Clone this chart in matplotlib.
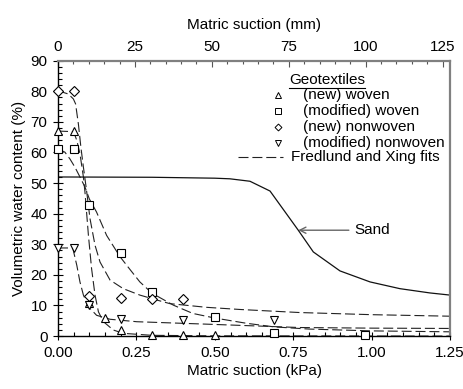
import numpy as np
import matplotlib
matplotlib.use('Agg')
import matplotlib.pyplot as plt
from matplotlib.ticker import MultipleLocator, FixedLocator, FormatStrFormatter

plt.rcParams['font.family'] = ['Liberation Sans', 'DejaVu Sans']
plt.rcParams['font.size'] = 11

#Measured points (matric suction kPa, volumetric water content %)
new_woven_x = [0.0, 0.05, 0.1, 0.15, 0.2, 0.3, 0.4, 0.5]
new_woven_y = [67.0, 67.0, 10.8, 6.0, 2.0, 0.5, 0.3, 0.3]
mod_woven_x = [0.0, 0.05, 0.1, 0.2, 0.3, 0.5, 0.69, 0.98]
mod_woven_y = [61.3, 61.3, 42.7, 27.0, 14.4, 6.3, 1.1, 0.2]
new_nonwoven_x = [0.0, 0.05, 0.1, 0.2, 0.3, 0.4]
new_nonwoven_y = [80.2, 80.2, 13.2, 12.4, 12.0, 12.0]
mod_nonwoven_x = [0.0, 0.05, 0.1, 0.2, 0.4, 0.69]
mod_nonwoven_y = [28.8, 28.8, 10.3, 5.5, 5.4, 5.4]

#Fredlund and Xing fits
fit_new_woven_x = [0.0, 0.05, 0.06, 0.07, 0.081, 0.086, 0.097, 0.107, 0.118, 0.129, 0.145, 0.176, 0.208, 0.3, 0.5, 1.25]
fit_new_woven_y = [67.0, 66.8, 63.9, 59.6, 52.0, 47.0, 32.9, 22.1, 13.4, 7.9, 4.7, 2.0, 0.9, 0.25, 0.08, 0.0]
fit_mod_woven_x = [0.0, 0.022, 0.038, 0.054, 0.07, 0.086, 0.1, 0.123, 0.155, 0.198, 0.23, 0.261, 0.3, 0.368, 0.43, 0.5, 0.6, 0.69, 0.8, 1.0, 1.25]
fit_mod_woven_y = [61.2, 60.1, 57.9, 55.2, 52.0, 48.7, 44.8, 40.5, 32.9, 25.9, 21.7, 17.7, 14.0, 10.1, 7.4, 5.9, 4.2, 3.0, 2.3, 1.7, 1.4]
fit_new_nonwoven_x = [0.0, 0.033, 0.049, 0.056, 0.065, 0.073, 0.081, 0.091, 0.102, 0.118, 0.134, 0.166, 0.208, 0.261, 0.325, 0.357, 0.474, 0.58, 0.77, 1.0, 1.25]
fit_new_nonwoven_y = [80.2, 79.1, 77.5, 75.9, 69.3, 61.7, 55.2, 47.6, 38.4, 29.7, 24.2, 18.3, 15.5, 13.4, 11.5, 10.6, 9.4, 8.7, 7.7, 7.0, 6.5]
fit_mod_nonwoven_x = [0.0, 0.047, 0.06, 0.07, 0.081, 0.097, 0.123, 0.166, 0.251, 0.474, 0.77, 1.0, 1.25]
fit_mod_nonwoven_y = [28.8, 28.8, 23.1, 17.7, 13.4, 9.6, 6.8, 5.5, 4.7, 3.9, 2.8, 2.6, 2.5]

#Sand curve
sand_x = [0.0, 0.3, 0.5, 0.548, 0.612, 0.676, 0.766, 0.814, 0.899, 0.995, 1.09, 1.186, 1.25]
sand_y = [52.0, 51.9, 51.6, 51.4, 50.6, 47.4, 34.6, 27.5, 21.3, 17.7, 15.5, 14.1, 13.4]

top_ticks = [0, 25, 50, 75, 100, 125]

fig = plt.figure(figsize=(4.64, 3.89), dpi=100)
ax = fig.add_axes([0.125, 0.136, 0.845, 0.708])

dash = (0, (9, 3.5))
lc = '#222222'
for fx, fy in [(fit_new_woven_x, fit_new_woven_y), (fit_mod_woven_x, fit_mod_woven_y),
               (fit_new_nonwoven_x, fit_new_nonwoven_y), (fit_mod_nonwoven_x, fit_mod_nonwoven_y)]:
    ax.plot(fx, fy, color=lc, lw=0.8, linestyle=dash, zorder=2)

ax.plot(sand_x, sand_y, color='#111111', lw=0.9, zorder=2)

mk = dict(linestyle='none', mfc='white', mec='black', mew=0.8, ms=6, zorder=3, clip_on=False)
ax.plot(new_woven_x, new_woven_y, marker='^', **mk)
ax.plot(mod_woven_x, mod_woven_y, marker='s', **dict(mk, ms=5.5))
ax.plot(new_nonwoven_x, new_nonwoven_y, marker='D', **dict(mk, ms=5))
ax.plot(mod_nonwoven_x, mod_nonwoven_y, marker='v', **mk)

#Sand label with arrow
ax.annotate('Sand', xy=(0.766, 34.6), xytext=(0.945, 34.6), va='center', ha='left',
            arrowprops=dict(arrowstyle='->', color='#666666', lw=1.0, shrinkA=2, shrinkB=0))

#Hand-made legend
ax.text(0.589, 0.930, 'Geotextiles', transform=ax.transAxes, ha='left', va='center')
ax.plot([0.589, 0.783], [0.902, 0.902], transform=ax.transAxes, color='black', lw=0.8)
leg_items = [('^', '(new) woven'), ('s', '(modified) woven'), ('D', '(new) nonwoven'), ('v', '(modified) nonwoven')]
for i, (m, lab) in enumerate(leg_items):
    yy = 0.876 - i * 0.058
    ax.plot([0.56], [yy], transform=ax.transAxes, marker=m, linestyle='none', mfc='white',
            mec='black', mew=0.7, ms=4 if m != 'D' else 3.5)
    ax.text(0.626, yy, lab, transform=ax.transAxes, ha='left', va='center')
ax.plot([0.459, 0.575], [0.650, 0.650], transform=ax.transAxes, color=lc, lw=0.8, linestyle=dash)
ax.text(0.594, 0.650, 'Fredlund and Xing fits', transform=ax.transAxes, ha='left', va='center')

ax.set_xlim(0, 1.25)
ax.set_ylim(0, 90)
ax.xaxis.set_major_locator(MultipleLocator(0.25))
ax.xaxis.set_minor_locator(MultipleLocator(0.05))
ax.xaxis.set_major_formatter(FormatStrFormatter('%.2f'))
ax.yaxis.set_major_locator(MultipleLocator(10))
ax.yaxis.set_minor_locator(MultipleLocator(2))
ax.tick_params(axis='x', which='major', direction='inout', length=6, width=0.8, pad=4)
ax.tick_params(axis='x', which='minor', direction='in', length=3, width=0.8)
ax.tick_params(axis='y', which='major', direction='inout', length=7, width=0.8, pad=4)
ax.tick_params(axis='y', which='minor', direction='in', length=3, width=0.8)
ax.set_xlabel('Matric suction (kPa)', labelpad=3)
ax.set_ylabel('Volumetric water content (%)', labelpad=3)

for s in ['top', 'right']:
    ax.spines[s].set_color('#808080')
    ax.spines[s].set_linewidth(1.6)
for s in ['left', 'bottom']:
    ax.spines[s].set_color('black')
    ax.spines[s].set_linewidth(1.0)

#Top axis in mm of water (1 mm = 0.00981 kPa)
top = ax.secondary_xaxis('top', functions=(lambda k: k / 0.00981, lambda mm: mm * 0.00981))
top.xaxis.set_major_locator(FixedLocator(top_ticks))
top.xaxis.set_minor_locator(FixedLocator(np.arange(5, 126, 5)))
top.tick_params(which='major', direction='in', length=4, width=0.8, colors='#555555', labelcolor='black', pad=5)
top.tick_params(which='minor', direction='in', length=2.5, width=0.8, colors='#555555')
top.spines['top'].set_visible(False)
top.set_xlabel('Matric suction (mm)', labelpad=8)

fig.savefig('out.png', dpi=100)
